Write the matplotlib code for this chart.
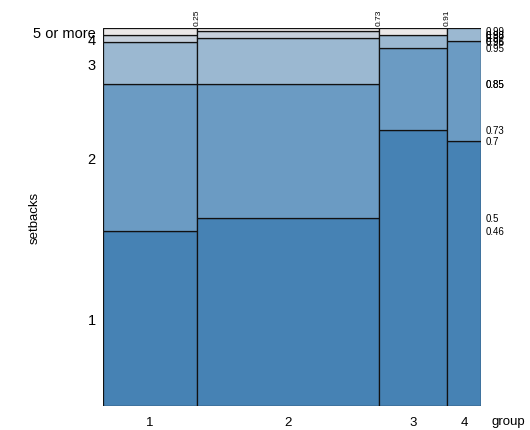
import numpy as np
import matplotlib
matplotlib.use("Agg")
import matplotlib.pyplot as plt

plt.rcParams['font.family'] = ['Liberation Sans', 'DejaVu Sans']

groups = ["1", "2", "3", "4"]
group_share = [0.25, 0.48, 0.18, 0.09]
setbacks = ["1", "2", "3", "4", "5 or more"]
# conditional share of each setbacks level inside a group
props = {
    "1": [0.463, 0.389, 0.110, 0.020, 0.018],
    "2": [0.497, 0.356, 0.121, 0.017, 0.009],
    "3": [0.730, 0.216, 0.036, 0.000, 0.018],
    "4": [0.700, 0.265, 0.035, 0.000, 0.000],
}
colors = ["#4682b4", "#6b9bc3", "#9bb8d1", "#c6d0dc", "#ebe8e8"]

fig = plt.figure(figsize=(5.30, 4.31), dpi=100)
ax = fig.add_axes([0.1938, 0.0557, 0.7137, 0.8770])

x0 = 0.0
for g, w in zip(groups, group_share):
    bottom = 0.0
    for k, p in enumerate(props[g]):
        if p > 0:
            ax.bar(x0, p, width=w, bottom=bottom, align='edge',
                   color=colors[k], edgecolor='#111111', linewidth=0.9)
        bottom += p
        # cumulative proportion labels on the right
        if bottom < 0.9999 and p > 0:
            ax.text(1.013, bottom, f"{round(bottom, 2):g}", fontsize=7,
                    ha='left', va='center', clip_on=False)
    # group boundary label along the top
    x0 += w
    if x0 < 0.9999:
        ax.text(x0, 1.008, f"{round(x0, 2):g}", fontsize=6, rotation=90,
                ha='center', va='bottom', clip_on=False)

ax.set_xlim(0, 1)
ax.set_ylim(0, 1)

# group labels at column centres
centres = np.cumsum(group_share) - np.array(group_share) / 2
ax.set_xticks(centres)
ax.set_xticklabels(groups, fontsize=9.5)

# setbacks labels at the middle of each segment in the first column
cum1 = np.cumsum(props["1"])
mids = cum1 - np.array(props["1"]) / 2
ax.set_yticks(mids)
ax.set_yticklabels(setbacks, fontsize=10.5)
ax.tick_params(axis='y', length=0, pad=5)
ax.tick_params(axis='x', length=0, pad=7)

for s in ax.spines.values():
    s.set_visible(False)

fig.text(35 / 530, 0.5 + 0.5 * (0.0557 + 0.9327 - 1), "setbacks", fontsize=9.5,
         rotation=90, ha='center', va='center')
ax.text(1.028, -0.04, "group", fontsize=9.5, ha='left', va='center',
        transform=ax.transAxes, clip_on=False)

fig.savefig("out.png", dpi=100)
